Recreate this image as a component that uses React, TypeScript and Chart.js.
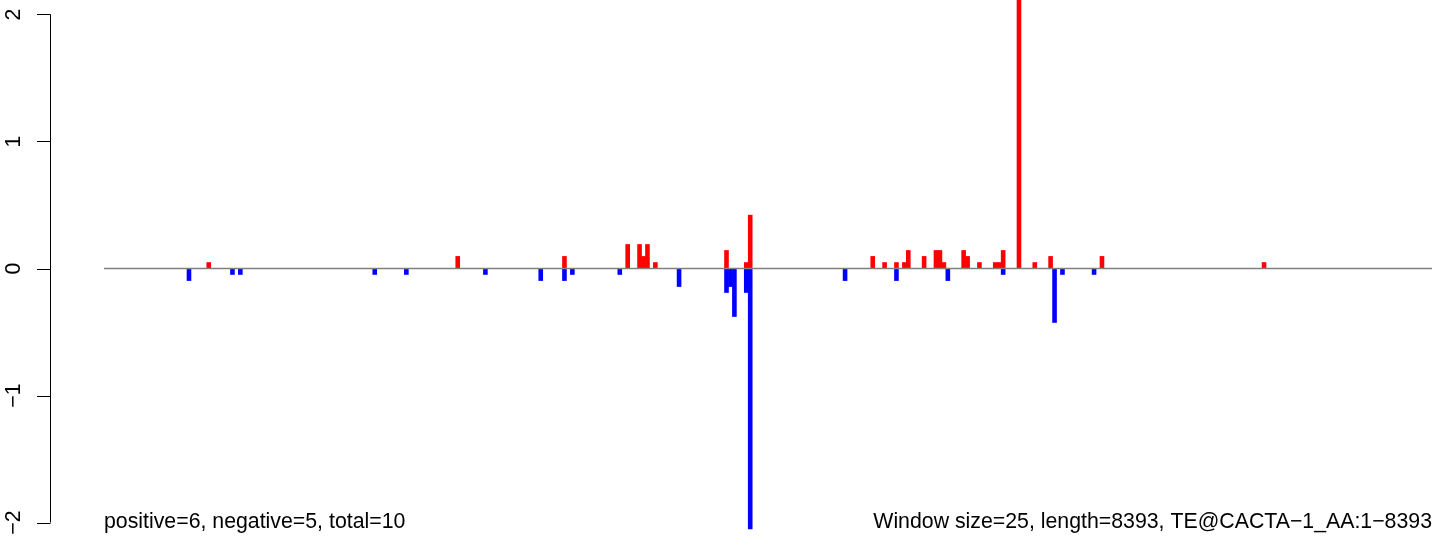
import React, { useEffect, useRef } from "react";
import { Chart, registerables } from "chart.js";

Chart.register(...registerables);

// Window layout: 8393 bp in windows of 25 bp
const windowSize = 25;
const seqLength = 8393;
const windowCount = Math.ceil(seqLength / windowSize); // 336

// Positive (red) windows: index and value
const posIdx = [26, 89, 116, 132, 135, 136, 137, 139, 157, 162, 163, 194, 197, 200, 202, 203, 207, 210, 211, 212, 217, 218, 221, 225, 226, 227, 231, 235, 239, 252, 293];
const posVal = [0.047, 0.095, 0.095, 0.189, 0.189, 0.095, 0.189, 0.047, 0.142, 0.047, 0.42, 0.095, 0.047, 0.047, 0.047, 0.142, 0.095, 0.142, 0.142, 0.047, 0.142, 0.095, 0.047, 0.047, 0.047, 0.142, 2.3, 0.047, 0.095, 0.095, 0.047];

// Negative (blue) windows: index and value
const negIdx = [21, 32, 34, 68, 76, 96, 110, 116, 118, 130, 145, 157, 158, 159, 162, 163, 187, 200, 213, 227, 240, 242, 250];
const negVal = [-0.095, -0.047, -0.047, -0.047, -0.047, -0.047, -0.095, -0.095, -0.047, -0.047, -0.142, -0.189, -0.142, -0.378, -0.189, -2.05, -0.095, -0.095, -0.095, -0.047, -0.425, -0.047, -0.047];

const yTicks = [-2, -1, 0, 1, 2];
const yTickLabels = ["\u22122", "\u22121", "0", "1", "2"];
const yLimit = 2.114;

const leftNote = "positive=6, negative=5, total=10";
const rightNote = "Window size=25, length=8393, TE@CACTA\u22121_AA:1\u22128393";

const labels = Array.from({ length: windowCount }, (_, i) => String(i * windowSize + 1));
function fill(idx: number[], val: number[]) {
  const arr: (number | null)[] = new Array(windowCount).fill(null);
  idx.forEach((k, j) => {
    arr[k] = val[j];
  });
  return arr;
}

const FONT = '21.3px "Liberation Sans", Arial, sans-serif';

const decorPlugin = {
  id: "rDecor",
  afterDraw(chart: any) {
    const { ctx, chartArea } = chart;
    const y = chart.scales.y;
    ctx.save();
    // zero line
    const z = y.getPixelForValue(0);
    ctx.strokeStyle = "#808080";
    ctx.lineWidth = 1.5;
    ctx.beginPath();
    ctx.moveTo(chartArea.left, z);
    ctx.lineTo(chartArea.right, z);
    ctx.stroke();
    // y axis (R style)
    const axX = 50.5;
    ctx.strokeStyle = "#000";
    ctx.lineWidth = 1;
    ctx.beginPath();
    ctx.moveTo(axX, y.getPixelForValue(yTicks[yTicks.length - 1]));
    ctx.lineTo(axX, y.getPixelForValue(yTicks[0]));
    yTicks.forEach((t) => {
      const p = Math.round(y.getPixelForValue(t)) + 0.5;
      ctx.moveTo(37, p);
      ctx.lineTo(axX, p);
    });
    ctx.stroke();
    ctx.fillStyle = "#000";
    ctx.font = FONT;
    ctx.textAlign = "center";
    ctx.textBaseline = "alphabetic";
    yTicks.forEach((t, i) => {
      const p = y.getPixelForValue(t);
      ctx.save();
      ctx.translate(20, p);
      ctx.rotate(-Math.PI / 2);
      ctx.fillText(yTickLabels[i], 0, 0);
      ctx.restore();
    });
    // notes
    ctx.textAlign = "left";
    ctx.fillText(leftNote, chartArea.left, 528);
    ctx.textAlign = "right";
    ctx.fillText(rightNote, chartArea.right, 528);
    ctx.restore();
  },
};

export default function App() {
  const ref = useRef<HTMLCanvasElement | null>(null);
  useEffect(() => {
    if (!ref.current) return;
    const chart = new Chart(ref.current, {
      type: "bar",
      data: {
        labels,
        datasets: [
          {
            label: "positive",
            data: fill(posIdx, posVal),
            backgroundColor: "#FF0000",
            borderWidth: 0,
            barPercentage: 1,
            categoryPercentage: 1,
          },
          {
            label: "negative",
            data: fill(negIdx, negVal),
            backgroundColor: "#0000FF",
            borderWidth: 0,
            barPercentage: 1,
            categoryPercentage: 1,
          },
        ],
      },
      options: {
        animation: false,
        responsive: false,
        devicePixelRatio: 1,
        layout: { padding: { left: 104, right: 12, top: 0, bottom: 3 } },
        plugins: { legend: { display: false }, tooltip: { enabled: false }, title: { display: false } },
        scales: {
          x: { type: "category", stacked: true, display: false, offset: true },
          y: { type: "linear", stacked: true, display: false, min: -yLimit, max: yLimit },
        },
      },
      plugins: [decorPlugin],
    });
    return () => chart.destroy();
  }, []);
  return (
    <div style={{ position: "absolute", left: 0, top: 0, width: 1444, height: 540, background: "#fff" }}>
      <canvas ref={ref} width={1444} height={540} style={{ display: "block" }} />
    </div>
  );
}
